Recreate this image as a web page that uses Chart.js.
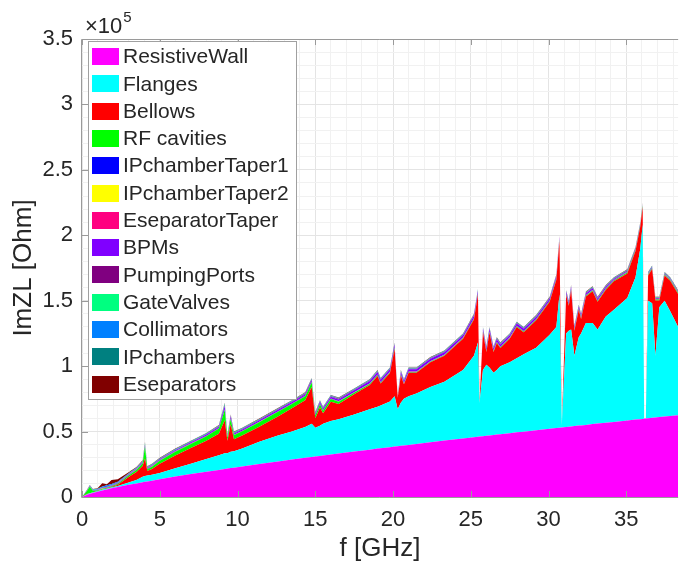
<!DOCTYPE html>
<html>
<head>
<meta charset="utf-8">
<script src="https://cdn.jsdelivr.net/npm/chart.js@4"></script>
<style>
  html, body { margin: 0; padding: 0; background: #fff; }
  canvas { display: block; }
</style>
</head>
<body>
<canvas id="graficoImpedancia" width="683" height="566"></canvas>
<script>
// Frecuencia [GHz]
const freq = [
  0, 0.3, 0.5, 0.7, 1.0, 1.3, 1.6, 1.9, 2.3, 3.0,
  3.5, 3.9, 4.05, 4.2, 4.5, 5, 6, 7, 8, 8.8,
  9.18, 9.35, 9.56, 9.77, 10.3, 11.4, 12.6, 13.5, 14.35, 14.77,
  15.0, 15.3, 15.5, 16.0, 16.5, 17.5, 18.5, 19.0, 19.2, 19.8,
  20.1, 20.3, 20.5, 20.7, 21.0, 21.5, 22.4, 23.3, 24.5, 25.2,
  25.46, 25.56, 25.78, 26.0, 26.2, 26.46, 26.67, 26.9, 27.5, 27.95,
  28.4, 29.2, 30.07, 30.5, 30.7, 30.85, 31.13, 31.3, 31.45, 31.66,
  31.94, 32.09, 32.4, 32.83, 33.15, 33.68, 34.2, 35.06, 35.59, 35.9,
  36.05, 36.15, 36.25, 36.4, 36.66, 36.87, 37.12, 37.46, 37.82, 38.33
];

// Im(ZL) de cada componente [Ohm], en el orden en que se apilan
const resistiveWall = [
  0, 1600, 2400, 3100, 4100, 4900, 5800, 6600, 7600, 9300,
  10400, 11300, 11600, 11900, 12500, 13600, 15600, 17500, 19300, 20700,
  21400, 21700, 22100, 22400, 23300, 25200, 27200, 28600, 29900, 30600,
  31000, 31400, 31700, 32500, 33200, 34700, 36200, 37000, 37200, 38100,
  38500, 38800, 39100, 39400, 39800, 40500, 41800, 43100, 44700, 45700,
  46000, 46200, 46500, 46800, 47000, 47400, 47700, 48000, 48800, 49400,
  49900, 51000, 52100, 52700, 53000, 53200, 53500, 53700, 53900, 54200,
  54600, 54700, 55100, 55700, 56100, 56800, 57400, 58500, 59200, 59500,
  59700, 59900, 60000, 60200, 60500, 60700, 61100, 61500, 61900, 62500
];
const flanges = [
  0, 400, 400, 300, 300, 600, 500, 600, 900, 1700,
  2600, 4200, 4400, 4600, 4500, 4700, 6400, 8000, 9700, 11300,
  12100, 11800, 12400, 12600, 13700, 17100, 19800, 21400, 23600, 25400,
  22000, 23100, 24300, 25500, 26300, 28300, 30800, 32000, 32800, 34900,
  38500, 28200, 32900, 35600, 37200, 38500, 42200, 44900, 52300, 62300,
  72000, 25800, 50500, 54200, 52000, 47600, 49300, 52000, 54200, 56600,
  59100, 63000, 71900, 77300, 102000, 1800, 71500, 73300, 74100, 53800,
  67400, 70300, 77900, 77300, 71900, 81200, 85600, 93500, 108800, 130500,
  148300, 0, 0, 89800, 87500, 47300, 83900, 88500, 80100, 67500
];
const bellows = [
  0, 200, 100, 200, 100, 300, 300, 500, 900, 4200,
  6200, 8200, 13400, 3300, 4400, 7200, 9800, 12000, 13900, 16300,
  25100, 9500, 21100, 9200, 10000, 11400, 14600, 17800, 20400, 28100,
  7200, 13800, 8000, 14800, 11500, 15500, 18600, 23400, 16800, 21800,
  36100, 8900, 20900, 11100, 17900, 15900, 18900, 19900, 23900, 27700,
  36600, 1300, 28900, 9900, 26700, 15900, 20700, 13900, 17900, 23900,
  16900, 21100, 25200, 36100, 40900, 1600, 29100, 19200, 30100, 19100,
  21100, 11100, 20200, 24200, 21200, 20400, 21800, 18800, 19900, 16900,
  13900, 0, 0, 19200, 26200, 42200, 5200, 19200, 23200, 25200
];
const rfCavities = [
  0, 2000, 5000, 1200, 500, 500, 500, 600, 800, 1200,
  1500, 2000, 9000, 1500, 1800, 2200, 2800, 3000, 3500, 4000,
  8000, 2500, 4000, 3000, 3200, 3500, 3500, 3200, 3000, 3500,
  2000, 2500, 2000, 2000, 1800, 1200, 800, 800, 600, 600,
  1000, 400, 500, 500, 500, 500, 500, 500, 500, 500,
  500, 100, 500, 500, 500, 500, 500, 500, 500, 500,
  500, 500, 500, 600, 800, 100, 600, 600, 600, 600,
  600, 600, 600, 600, 600, 600, 600, 800, 800, 800,
  800, 0, 0, 700, 700, 700, 700, 700, 700, 700
];
const ipChamberTaper1 = [
  0, 100, 100, 100, 100, 100, 100, 100, 100, 200,
  200, 200, 200, 200, 200, 200, 200, 200, 200, 200,
  200, 200, 200, 200, 200, 200, 200, 200, 200, 200,
  200, 200, 200, 200, 200, 200, 200, 200, 200, 200,
  200, 100, 200, 200, 200, 200, 200, 200, 200, 200,
  200, 100, 200, 200, 200, 200, 200, 200, 200, 200,
  200, 200, 200, 200, 200, 0, 200, 200, 200, 200,
  200, 200, 200, 200, 200, 200, 200, 200, 200, 200,
  200, 0, 0, 200, 200, 200, 200, 200, 200, 200
];
const ipChamberTaper2 = [
  0, 100, 100, 100, 100, 100, 100, 100, 100, 100,
  100, 100, 100, 100, 100, 100, 100, 100, 100, 100,
  100, 100, 100, 100, 100, 100, 100, 100, 100, 100,
  100, 100, 100, 100, 100, 100, 100, 100, 100, 100,
  100, 100, 100, 100, 100, 100, 100, 100, 100, 100,
  100, 100, 100, 100, 100, 100, 100, 100, 100, 100,
  100, 100, 100, 100, 100, 0, 100, 100, 100, 100,
  100, 100, 100, 100, 100, 100, 100, 100, 100, 100,
  100, 0, 0, 100, 100, 100, 100, 100, 100, 100
];
const eseparatorTaper = [
  0, 100, 100, 100, 100, 100, 100, 100, 100, 100,
  100, 100, 100, 100, 100, 100, 100, 100, 100, 100,
  100, 100, 100, 100, 100, 100, 100, 100, 100, 100,
  100, 100, 100, 100, 100, 100, 100, 100, 100, 100,
  100, 100, 100, 100, 100, 100, 100, 100, 100, 100,
  100, 100, 100, 100, 100, 100, 100, 100, 100, 100,
  100, 100, 100, 100, 100, 0, 100, 100, 100, 100,
  100, 100, 100, 100, 100, 100, 100, 100, 100, 100,
  100, 0, 0, 100, 100, 100, 100, 100, 100, 100
];
const bpms = [
  0, 100, 200, 200, 200, 300, 300, 300, 300, 400,
  500, 600, 1000, 500, 600, 600, 700, 800, 900, 1000,
  2500, 800, 1500, 1000, 1000, 1000, 1100, 1200, 1300, 1500,
  1000, 1400, 1200, 1400, 1400, 1500, 1800, 2000, 1800, 1800,
  2000, 600, 1800, 1600, 1800, 1800, 1800, 1800, 1800, 2000,
  2000, 300, 1800, 1800, 2000, 1800, 2000, 1800, 1800, 1800,
  1800, 1600, 1500, 1500, 1500, 200, 1500, 1400, 1500, 1500,
  1500, 1500, 1400, 1400, 1400, 1200, 800, 600, 500, 500,
  500, 0, 0, 400, 400, 400, 400, 400, 400, 400
];
const pumpingPorts = [
  0, 100, 100, 100, 100, 100, 100, 100, 100, 200,
  200, 200, 300, 300, 300, 300, 300, 300, 300, 300,
  600, 300, 500, 400, 400, 400, 400, 400, 400, 400,
  400, 400, 400, 400, 400, 400, 400, 400, 400, 400,
  400, 300, 400, 400, 400, 400, 400, 400, 400, 400,
  400, 100, 400, 400, 400, 400, 400, 400, 400, 400,
  400, 400, 400, 400, 400, 100, 400, 400, 400, 400,
  400, 400, 400, 400, 400, 400, 400, 400, 400, 400,
  400, 0, 0, 300, 300, 300, 300, 300, 300, 300
];
const gateValves = [
  0, 100, 100, 100, 100, 100, 100, 100, 100, 200,
  200, 200, 800, 200, 200, 200, 200, 200, 200, 200,
  800, 200, 200, 200, 200, 200, 200, 200, 200, 200,
  200, 200, 200, 200, 200, 200, 200, 200, 200, 200,
  200, 100, 200, 200, 200, 200, 200, 200, 200, 200,
  200, 100, 200, 200, 200, 200, 200, 200, 200, 200,
  200, 200, 200, 200, 200, 0, 200, 200, 200, 200,
  200, 200, 200, 200, 200, 200, 200, 200, 200, 200,
  200, 0, 0, 200, 200, 200, 200, 200, 200, 200
];
const collimators = [
  0, 100, 200, 300, 500, 800, 1000, 800, 600, 300,
  200, 200, 200, 200, 200, 200, 200, 200, 200, 200,
  200, 200, 200, 200, 200, 200, 200, 200, 200, 200,
  200, 200, 200, 200, 200, 200, 200, 200, 200, 200,
  200, 100, 200, 200, 200, 200, 200, 200, 200, 200,
  200, 100, 200, 200, 200, 200, 200, 200, 200, 200,
  200, 200, 200, 200, 200, 0, 200, 200, 200, 200,
  200, 200, 200, 200, 200, 200, 200, 200, 200, 200,
  200, 0, 0, 200, 200, 200, 200, 200, 200, 200
];
const ipChambers = [
  0, 100, 100, 100, 100, 100, 100, 100, 100, 300,
  300, 300, 600, 300, 300, 300, 300, 300, 300, 300,
  600, 300, 300, 300, 300, 300, 300, 300, 300, 400,
  300, 300, 300, 300, 300, 300, 300, 300, 300, 300,
  400, 100, 300, 300, 300, 300, 300, 300, 300, 300,
  400, 100, 300, 300, 300, 300, 300, 300, 300, 300,
  300, 300, 300, 300, 300, 0, 300, 300, 300, 300,
  300, 300, 300, 300, 300, 300, 300, 300, 300, 300,
  300, 0, 0, 300, 300, 300, 300, 300, 300, 300
];
const eseparators = [
  0, 200, 300, 300, 300, 2500, 800, 3000, 1800, 800,
  500, 400, 300, 300, 300, 300, 300, 300, 300, 300,
  300, 300, 300, 300, 300, 300, 300, 300, 300, 300,
  300, 300, 300, 300, 300, 300, 300, 300, 300, 300,
  300, 200, 300, 300, 300, 300, 300, 300, 300, 300,
  300, 100, 300, 300, 300, 300, 300, 300, 300, 300,
  300, 300, 300, 300, 300, 0, 300, 300, 300, 300,
  300, 300, 300, 300, 300, 300, 300, 300, 300, 300,
  300, 0, 0, 300, 300, 300, 300, 300, 300, 300
];

// Marcas principales de los ejes
const xTicks = [0, 5, 10, 15, 20, 25, 30, 35];
const yTicks = [0, 50000, 100000, 150000, 200000, 250000, 300000, 350000];

const X_MAX = 38.33;
const Y_MAX = 350000;
const FUENTE = "'Liberation Sans', Arial, Helvetica, sans-serif";
const TEXTO = '#262626';
const EJE = '#9a9a9a';

const componentes = [
  { label: 'ResistiveWall', data: resistiveWall, color: '#ff00ff' },
  { label: 'Flanges', data: flanges, color: '#00ffff' },
  { label: 'Bellows', data: bellows, color: '#ff0000' },
  { label: 'RF cavities', data: rfCavities, color: '#00ff00' },
  { label: 'IPchamberTaper1', data: ipChamberTaper1, color: '#0000ff' },
  { label: 'IPchamberTaper2', data: ipChamberTaper2, color: '#ffff00' },
  { label: 'EseparatorTaper', data: eseparatorTaper, color: '#ff0080' },
  { label: 'BPMs', data: bpms, color: '#8000ff' },
  { label: 'PumpingPorts', data: pumpingPorts, color: '#800080' },
  { label: 'GateValves', data: gateValves, color: '#00ff80' },
  { label: 'Collimators', data: collimators, color: '#0080ff' },
  { label: 'IPchambers', data: ipChambers, color: '#008080' },
  { label: 'Eseparators', data: eseparators, color: '#800000' }
];

// rejilla menor: cada 1 GHz y cada 0.1e5 Ohm
const rejillaX = [];
for (let v = 0; v <= 38; v++) rejillaX.push(v);
const rejillaY = [];
for (let v = 0; v <= Y_MAX; v += 10000) rejillaY.push(v);

const datasets = componentes.map((c, i) => ({
  label: c.label,
  data: freq.map((f, j) => ({ x: f, y: c.data[j] })),
  backgroundColor: c.color,
  borderWidth: 0,
  pointRadius: 0,
  tension: 0,
  fill: i === 0 ? 'origin' : '-1'
}));

const colorRejilla = (valores) => (c) =>
  valores.includes(c.tick.value) ? '#e4e4e4' : '#f1f1f1';

// caja de ejes con marcas hacia dentro, como en MATLAB
const marcoEjes = {
  id: 'marcoEjes',
  afterDatasetsDraw(chart) {
    const { ctx, chartArea: a, scales: { x, y } } = chart;
    ctx.save();
    ctx.strokeStyle = EJE;
    ctx.lineWidth = 1;
    ctx.beginPath();
    ctx.moveTo(a.right, a.top + 0.5);
    ctx.lineTo(a.left - 0.5, a.top + 0.5);
    ctx.lineTo(a.left - 0.5, a.bottom + 0.5);
    ctx.lineTo(a.right, a.bottom + 0.5);
    xTicks.forEach(v => {
      const px = Math.round(x.getPixelForValue(v)) + 0.5;
      ctx.moveTo(px, a.bottom);
      ctx.lineTo(px, a.bottom - 6);
      ctx.moveTo(px, a.top);
      ctx.lineTo(px, a.top + 6);
    });
    yTicks.forEach(v => {
      const py = Math.round(y.getPixelForValue(v)) + 0.5;
      ctx.moveTo(a.left, py);
      ctx.lineTo(a.left + 6, py);
    });
    ctx.stroke();
    ctx.restore();
  }
};

// leyenda dentro del área y el multiplicador x10^5
const leyendaMatlab = {
  id: 'leyendaMatlab',
  afterDraw(chart) {
    const { ctx, chartArea: a } = chart;
    ctx.save();
    const x0 = a.left + 6, y0 = a.top + 2, ancho = 208, alto = 358, paso = 27.3;
    ctx.fillStyle = '#fff';
    ctx.fillRect(x0, y0, ancho, alto);
    ctx.strokeStyle = '#a0a0a0';
    ctx.lineWidth = 1;
    ctx.strokeRect(x0 + 0.5, y0 + 0.5, ancho, alto);
    ctx.font = '21px ' + FUENTE;
    ctx.textBaseline = 'middle';
    chart.data.datasets.forEach((ds, i) => {
      const cy = y0 + 15.5 + i * paso;
      ctx.fillStyle = ds.backgroundColor;
      ctx.fillRect(x0 + 4, Math.round(cy - 8.5), 27, 17);
      ctx.fillStyle = TEXTO;
      ctx.fillText(ds.label, x0 + 35, cy + 1);
    });

    ctx.textBaseline = 'alphabetic';
    ctx.fillStyle = TEXTO;
    ctx.font = '22px ' + FUENTE;
    ctx.fillText('\u00d710', a.left + 3, 33);
    const w = ctx.measureText('\u00d710').width;
    ctx.font = '15px ' + FUENTE;
    ctx.fillText('5', a.left + 4 + w, 22);
    ctx.restore();
  }
};

new Chart(document.getElementById('graficoImpedancia'), {
  type: 'line',
  data: { datasets },
  options: {
    responsive: false,
    devicePixelRatio: 1,
    animation: false,
    events: [],
    layout: { padding: { top: 39, right: 0, bottom: 0, left: 0 } },
    plugins: {
      legend: { display: false },
      tooltip: { enabled: false }
    },
    scales: {
      x: {
        type: 'linear',
        min: 0,
        max: X_MAX,
        afterBuildTicks: s => { s.ticks = rejillaX.map(v => ({ value: v })); },
        afterFit: s => { s.height = 69; },
        grid: { color: colorRejilla(xTicks), drawTicks: false },
        border: { display: false },
        ticks: {
          autoSkip: false,
          maxRotation: 0,
          padding: 10,
          color: TEXTO,
          font: { family: FUENTE, size: 22 },
          callback: v => xTicks.includes(v) ? String(v) : ''
        },
        title: {
          display: true,
          text: 'f [GHz]',
          color: TEXTO,
          font: { family: FUENTE, size: 26 },
          padding: { top: 0, bottom: 2 }
        }
      },
      y: {
        stacked: true,
        min: 0,
        max: Y_MAX,
        afterBuildTicks: s => { s.ticks = rejillaY.map(v => ({ value: v })); },
        afterFit: s => { s.width = 82; },
        grid: { color: colorRejilla(yTicks), drawTicks: false },
        border: { display: false },
        ticks: {
          autoSkip: false,
          padding: 9,
          color: TEXTO,
          font: { family: FUENTE, size: 22 },
          callback: v => yTicks.includes(v) ? String(v / 1e5) : ''
        },
        title: {
          display: true,
          text: 'ImZL [Ohm]',
          color: TEXTO,
          font: { family: FUENTE, size: 26 },
          padding: { top: 8, bottom: 0 }
        }
      }
    }
  },
  plugins: [marcoEjes, leyendaMatlab]
});
</script>
</body>
</html>
